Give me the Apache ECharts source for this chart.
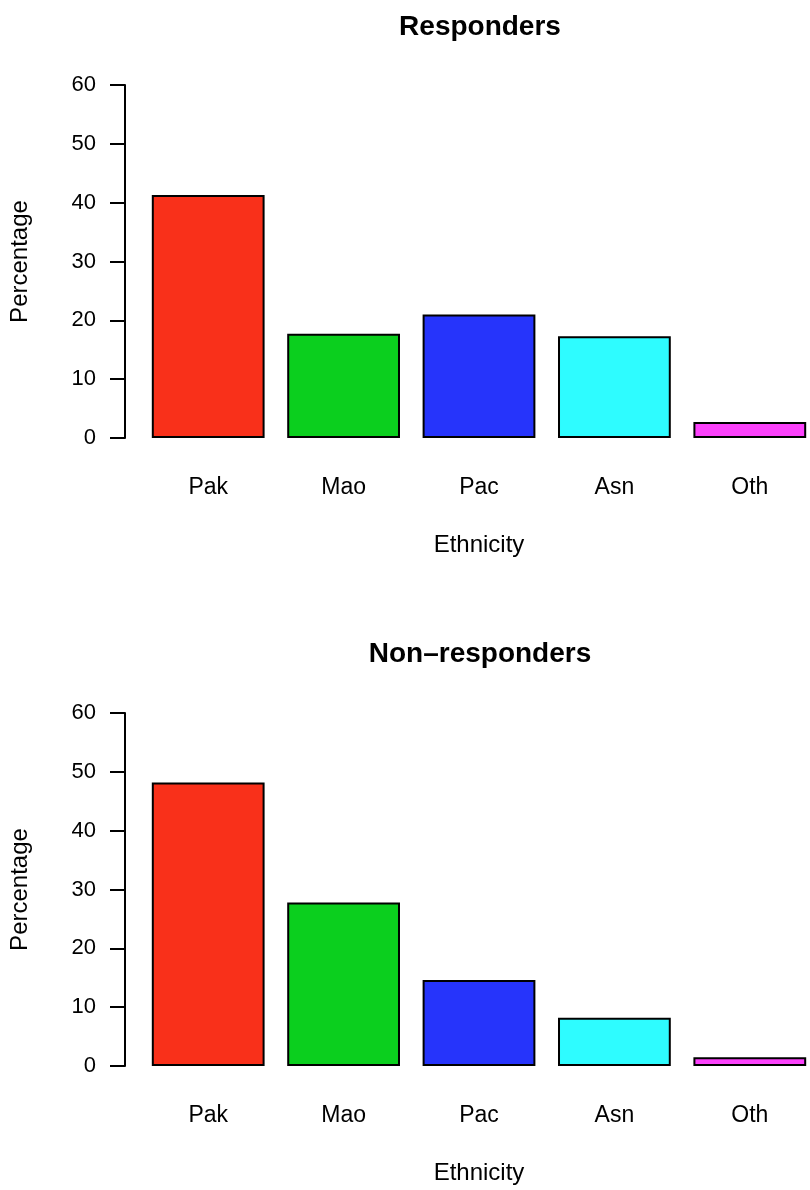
<!DOCTYPE html>
<html>
<head>
<meta charset="utf-8">
<title>Ethnicity of responders and non-responders</title>
<script src="https://cdn.jsdelivr.net/npm/echarts@6/dist/echarts.min.js"></script>
<style>
  html, body { margin: 0; padding: 0; background: #fff; }
  #chart { width: 810px; height: 1190px; }
</style>
</head>
<body>
<div id="chart"></div>
<script>
// Ethnic groups along the x axis
const categories = ['Pak', 'Mao', 'Pac', 'Asn', 'Oth'];
// Percentage of each group among responders and non-responders
const responders = [41.3, 17.7, 21.0, 17.3, 2.7];
const nonResponders = [48.2, 27.8, 14.6, 8.2, 1.5];
// Panel titles and axis captions
const panelTitles = ['Responders', 'Non\u2013responders'];
const yAxisTitle = 'Percentage';
const xAxisTitle = 'Ethnicity';
const barColors = ['#F9301A', '#0BCF1E', '#2634FB', '#2EFCFF', '#FC42FC'];

const FONT = '"Liberation Sans", Arial, Helvetica, sans-serif';

const panels = [
  { top: 85, height: 353, titleTop: 8, data: responders },
  { top: 713, height: 353, titleTop: 635, data: nonResponders }
];

// plot area runs slightly past the right edge of the page
const grids = panels.map(p => ({
  left: 140.5, width: 677, top: p.top, height: p.height,
  containLabel: false, outerBoundsMode: 'none'
}));

const titles = panels.map((p, i) => ({
  text: panelTitles[i],
  left: 475,
  top: p.titleTop,
  textAlign: 'center',
  textStyle: { fontFamily: FONT, fontWeight: 'bold', fontSize: 28, color: '#000' }
}));

const xAxes = panels.map((p, i) => ({
  type: 'category',
  gridIndex: i,
  data: categories,
  axisLine: { show: false },
  axisTick: { show: false },
  axisLabel: { margin: 38, fontFamily: FONT, fontSize: 23, color: '#000' },
  name: xAxisTitle,
  nameLocation: 'middle',
  nameGap: 95,
  nameTextStyle: { fontFamily: FONT, fontSize: 24, color: '#000' }
}));

const yAxes = panels.map((p, i) => ({
  type: 'value',
  gridIndex: i,
  min: 0,
  max: 60,
  interval: 10,
  offset: 15.5,
  axisLine: { show: true, lineStyle: { color: '#000', width: 2 } },
  axisTick: { show: true, inside: false, length: 15, lineStyle: { color: '#000', width: 2 } },
  axisLabel: { margin: 29, fontFamily: FONT, fontSize: 22, color: '#000' },
  splitLine: { show: false },
  name: yAxisTitle,
  nameLocation: 'middle',
  nameGap: 93,
  nameRotate: 90,
  nameTextStyle: { fontFamily: FONT, fontSize: 24, color: '#000' }
}));

const series = panels.map((p, i) => ({
  type: 'bar',
  xAxisIndex: i,
  yAxisIndex: i,
  barCategoryGap: '16.7%',
  data: p.data.map((v, k) => ({
    value: v,
    itemStyle: { color: barColors[k] }
  })),
  itemStyle: { borderColor: '#000', borderWidth: 2 },
  emphasis: { disabled: true },
  animation: false
}));

const chart = echarts.init(document.getElementById('chart'), null, { renderer: 'canvas' });
chart.setOption({
  backgroundColor: '#fff',
  animation: false,
  title: titles,
  grid: grids,
  xAxis: xAxes,
  yAxis: yAxes,
  series: series
});
</script>
</body>
</html>
